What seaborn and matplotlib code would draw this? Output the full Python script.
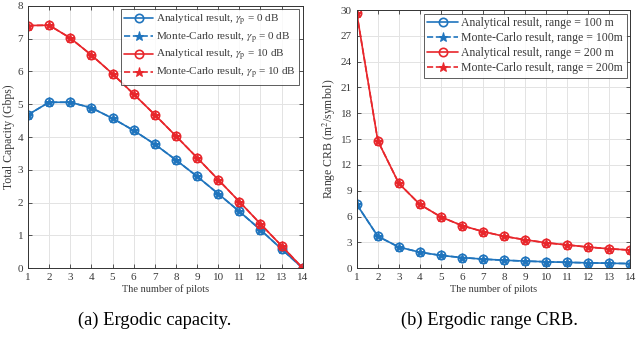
import numpy as np
import pandas as pd
import matplotlib
matplotlib.use("Agg")
import matplotlib.pyplot as plt
import seaborn as sns

pilots = list(range(1, 15))

# left panel: total capacity (Gbps)
cap_0db = [4.68, 5.06, 5.06, 4.89, 4.57, 4.20, 3.78, 3.30, 2.80, 2.27, 1.73, 1.17, 0.58, 0.0]
cap_10db = [7.40, 7.41, 7.02, 6.50, 5.93, 5.31, 4.68, 4.03, 3.37, 2.70, 2.03, 1.35, 0.68, 0.0]

# right panel: range CRB (m^2/symbol)
crb_100 = [7.40, 3.70, 2.45, 1.85, 1.48, 1.23, 1.05, 0.92, 0.82, 0.74, 0.67, 0.62, 0.57, 0.53]
crb_200 = [29.6, 14.8, 9.85, 7.40, 5.95, 4.95, 4.25, 3.70, 3.30, 2.95, 2.70, 2.45, 2.25, 2.10]

left_labels = [r"Analytical result, $\gamma_\mathrm{p}$ = 0 dB",
               r"Monte-Carlo result, $\gamma_\mathrm{p}$ = 0 dB",
               r"Analytical result, $\gamma_\mathrm{p}$ = 10 dB",
               r"Monte-Carlo result, $\gamma_\mathrm{p}$ = 10 dB"]
right_labels = ["Analytical result, range = 100 m",
                "Monte-Carlo result, range = 100m",
                "Analytical result, range = 200 m",
                "Monte-Carlo result, range = 200m"]

sns.set_theme(style="ticks")
plt.rcParams["font.family"] = ["Liberation Serif", "DejaVu Serif"]
plt.rcParams["mathtext.fontset"] = "stix"
plt.rcParams["xtick.direction"] = "in"
plt.rcParams["ytick.direction"] = "in"

blue = "#1f74bd"
red = "#e8262b"
txt = "#3a3a3a"

fig = plt.figure(figsize=(6.36, 3.46), dpi=100)
ax1 = fig.add_axes([0.044, 0.225, 0.432, 0.758])
ax2 = fig.add_axes([0.561, 0.225, 0.430, 0.746])


def draw(ax, s1, s2, labels, legsize):
    for vals, col, la, lm in [(s1, blue, labels[0], labels[1]), (s2, red, labels[2], labels[3])]:
        d = pd.DataFrame({"x": pilots, "y": vals})
        sns.lineplot(data=d, x="x", y="y", ax=ax, color=col, lw=1.2, marker="o",
                     markersize=6, markerfacecolor="none", markeredgecolor=col,
                     markeredgewidth=1.2, label=la)
        sns.lineplot(data=d, x="x", y="y", ax=ax, color=col, lw=1.2, ls="--", marker="*",
                     markersize=6.5, markeredgecolor=col, markerfacecolor=col, label=lm)
    ax.set_xlim(1, 14)
    ax.set_xticks(pilots)
    ax.grid(True, color="#e3e3e3", lw=0.7)
    for sp in ax.spines.values():
        sp.set_color("#333333")
        sp.set_linewidth(0.7)
    ax.tick_params(labelsize=8, colors=txt, length=3, width=0.6, top=True, right=True)
    ax.set_xlabel("The number of pilots", fontsize=7.5, color=txt, labelpad=2)
    leg = ax.legend(loc="upper right", fontsize=legsize, frameon=True, fancybox=False,
                    borderpad=0.3, labelspacing=0.25, handlelength=2.6,
                    handletextpad=0.3, borderaxespad=0.3)
    leg.get_frame().set_edgecolor("#333333")
    leg.get_frame().set_linewidth(0.7)
    for t in leg.get_texts():
        t.set_color(txt)


draw(ax1, cap_0db, cap_10db, left_labels, 8)
ax1.set_ylim(0, 8)
ax1.set_yticks(range(0, 9))
ax1.set_ylabel("Total Capacity (Gbps)", fontsize=8.5, color=txt, labelpad=2)

draw(ax2, crb_100, crb_200, right_labels, 8.5)
ax2.set_ylim(0, 30)
ax2.set_yticks(range(0, 31, 3))
ax2.set_ylabel(r"Range CRB (m$^2$/symbol)", fontsize=8.5, color=txt, labelpad=2)

fig.text(0.243, 0.075, "(a) Ergodic capacity.", ha="center", va="center", fontsize=13.3, color="black")
fig.text(0.77, 0.075, "(b) Ergodic range CRB.", ha="center", va="center", fontsize=13.3, color="black")

fig.savefig("out.png", dpi=100)
